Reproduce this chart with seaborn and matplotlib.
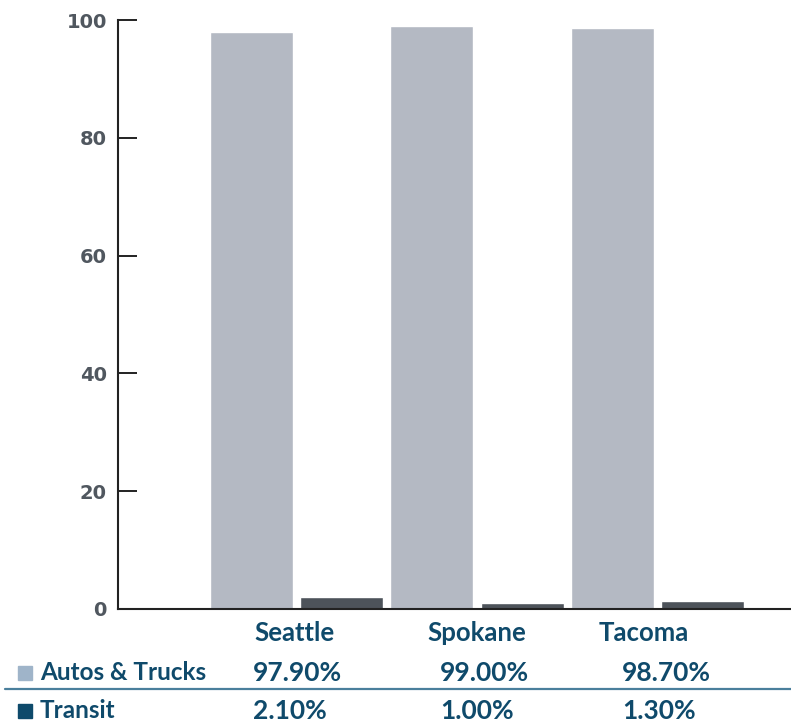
import matplotlib
matplotlib.use("Agg")
import matplotlib.pyplot as plt
import seaborn as sns
import pandas as pd

# Mode share by city (percent)
cities = ["Seattle", "Spokane", "Tacoma"]
modes = ["Autos & Trucks", "Transit"]
autos_trucks = [97.9, 99.0, 98.7]
transit = [2.1, 1.0, 1.3]
y_ticks = [0, 20, 40, 60, 80, 100]

bar_colors = ["#b4b9c3", "#4d535a"]
legend_colors = ["#9fb4c9", "#0e4a6b"]
text_color = "#0f4a6b"

df = pd.DataFrame({
    "city": cities * 2,
    "mode": [modes[0]] * 3 + [modes[1]] * 3,
    "share": autos_trucks + transit,
})

sns.set_theme(style="white")
plt.rcParams["font.family"] = ["Lato", "DejaVu Sans"]

W, H = 791, 725
fig = plt.figure(figsize=(W / 100, H / 100), dpi=100)
ax = fig.add_axes([118 / W, 1 - 609 / H, 1 - 118 / W, (609 - 20) / H])

sns.barplot(data=df, x="city", y="share", hue="mode", palette=bar_colors,
            width=1.0, gap=0.08, ax=ax, legend=False, saturation=1.0)

ax.set_ylim(0, 100)
ax.set_xlim(-0.99, 2.74)
ax.set_yticks(y_ticks)
ax.set_yticklabels([str(v) for v in y_ticks], fontsize=14, fontweight="bold",
                   color="#50575f", family="DejaVu Sans")
ax.set_xticks([])
ax.set_xlabel("")
ax.set_ylabel("")
ax.tick_params(axis="y", direction="in", length=13.5, width=1.4, color="#222222",
               pad=8, left=True)
for side in ["top", "right"]:
    ax.spines[side].set_visible(False)
for side in ["left", "bottom"]:
    ax.spines[side].set_color("#222222")
    ax.spines[side].set_linewidth(1.5)

# Data table under the chart
def fx(px):
    return px / W

def fy(py):
    return 1 - py / H

city_x = [294, 477, 644]
for c, x in zip(cities, city_x):
    fig.text(fx(x), fy(633), c, ha="center", va="center", fontsize=18.5,
             fontweight="bold", color=text_color)

value_x = [253, 440, 622]
rows = [(modes[0], autos_trucks, 673), (modes[1], transit, 711)]
for (label, vals, y), sq in zip(rows, legend_colors):
    fig.patches.append(plt.Rectangle((fx(18), fy(y + 7)), 14 / W, 14 / H,
                                     transform=fig.transFigure, color=sq))
    fig.text(fx(40), fy(y), label, ha="left", va="center", fontsize=17.5,
             fontweight="bold", color=text_color)
    for v, x in zip(vals, value_x):
        fig.text(fx(x), fy(y), f"{v:.2f}%", ha="left", va="center", fontsize=19,
                 fontweight="bold", color=text_color)

fig.add_artist(plt.Line2D([fx(5), 1.0], [fy(689), fy(689)], transform=fig.transFigure,
                          color="#4a7f9c", lw=1.6))

fig.savefig("out.png", dpi=100)
